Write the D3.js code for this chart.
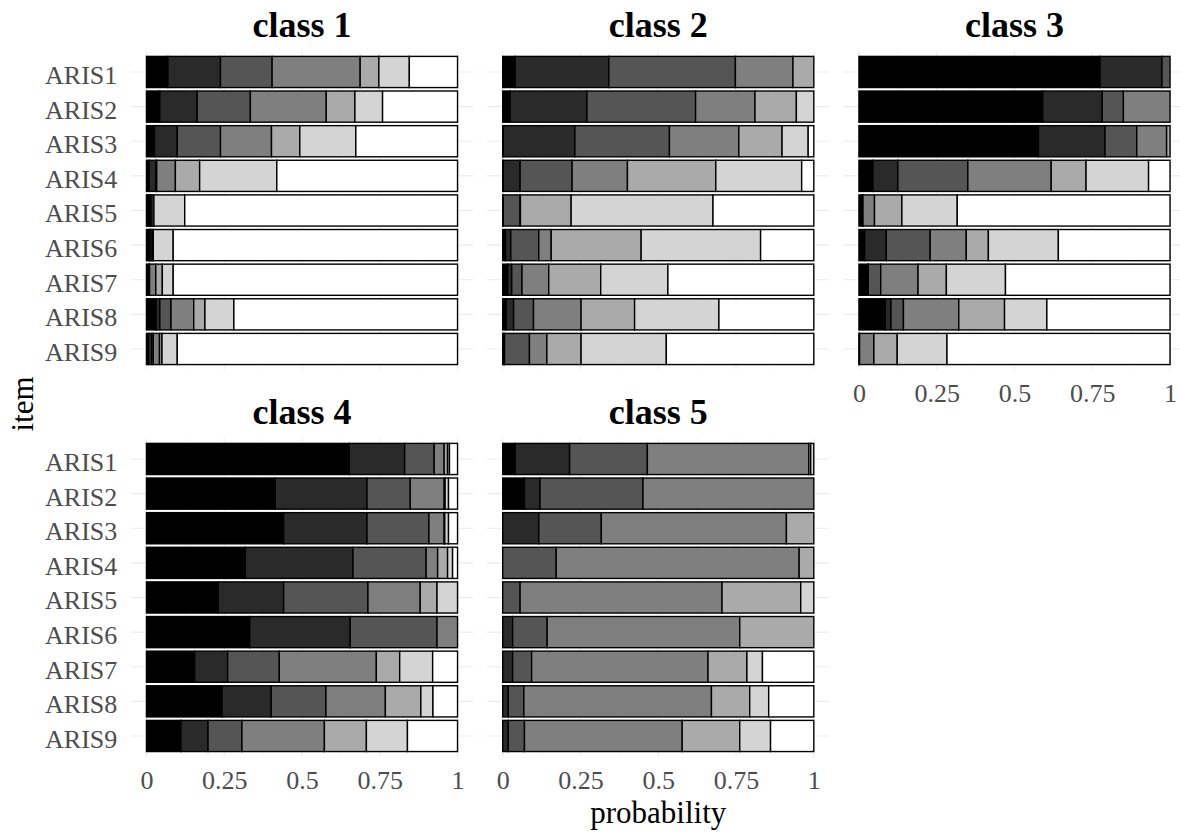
<!DOCTYPE html>
<html>
<head>
<meta charset="utf-8">
<script src="https://cdn.jsdelivr.net/npm/d3@7"></script>
<style>
  body { margin: 0; background: #fff; }
  svg { display: block; font-family: "Liberation Serif", "Times New Roman", serif; }
  .grid-major { stroke: #ebebeb; stroke-width: 1.1; }
  .grid-minor { stroke: #f2f2f2; stroke-width: 0.6; }
  .axis text { fill: #4d4d4d; font-size: 26px; }
  .axis path, .axis line { display: none; }
  .panel-title { font-size: 36px; font-weight: bold; fill: #000; }
  .axis-title { font-size: 31px; fill: #000; }
</style>
</head>
<body>
<div id="chart"></div>
<script>
// response categories, darkest first
const categories = ['1', '2', '3', '4', '5', '6', '7'];
const fills = ['#000000', '#2a2a2a', '#555555', '#7f7f7f', '#aaaaaa', '#d4d4d4', '#ffffff'];
const items = ['ARIS1', 'ARIS2', 'ARIS3', 'ARIS4', 'ARIS5', 'ARIS6', 'ARIS7', 'ARIS8', 'ARIS9'];
const classes = ['class 1', 'class 2', 'class 3', 'class 4', 'class 5'];
const xTicks = [0, 0.25, 0.5, 0.75, 1];

// probability of each category, one row per item
const class1 = [
  [.069, .169, .166, .283, .060, .098, .155],
  [.043, .120, .171, .244, .092, .089, .241],
  [.026, .073, .139, .164, .091, .180, .327],
  [.009, .022, .002, .060, .078, .248, .581],
  [.005, .004, .004, .005, .006, .099, .877],
  [.008, .002, .002, .006, .004, .064, .914],
  [.008, .001, .001, .020, .021, .035, .914],
  [.031, .012, .036, .073, .036, .093, .719],
  [.007, .010, .005, .020, .008, .049, .901]
];
const class2 = [
  [.040, .301, .407, .185, .067, 0, 0],
  [.024, .247, .349, .191, .133, .056, 0],
  [.002, .230, .304, .223, .139, .084, .018],
  [.002, .054, .167, .178, .284, .276, .039],
  [.001, .001, .054, .001, .163, .456, .324],
  [.009, .017, .090, .040, .289, .384, .171],
  [.016, .013, .033, .086, .167, .216, .469],
  [.011, .024, .064, .153, .172, .271, .305],
  [.003, .003, .080, .056, .110, .274, .474]
];
const class3 = [
  [.775, .199, .026, 0, 0, 0, 0],
  [.591, .191, .068, .150, 0, 0, 0],
  [.577, .214, .102, .096, .011, 0, 0],
  [.045, .080, .225, .268, .112, .201, .069],
  [.010, .002, .001, .037, .088, .178, .684],
  [.018, .070, .141, .116, .071, .225, .359],
  [.029, .001, .040, .120, .091, .190, .529],
  [.085, .018, .040, .178, .147, .136, .396],
  [.001, .001, 0, .046, .075, .160, .717]
];
const class4 = [
  [.652, .178, .095, .032, .011, .006, .026],
  [.414, .295, .139, .109, .003, .011, .029],
  [.441, .268, .199, .049, .002, .012, .029],
  [.318, .346, .235, .037, .032, .016, .016],
  [.231, .210, .271, .168, .054, .066, 0],
  [.332, .323, .279, .066, 0, 0, 0],
  [.155, .106, .166, .312, .075, .106, .080],
  [.243, .158, .176, .191, .114, .039, .079],
  [.111, .087, .109, .265, .135, .132, .161]
];
const class5 = [
  [.040, .175, .250, .519, .006, .010, 0],
  [.070, .050, .331, .549, 0, 0, 0],
  [0, .116, .201, .595, .088, 0, 0],
  [0, 0, .172, .781, .047, 0, 0],
  [0, 0, .056, .649, .253, .042, 0],
  [0, .032, .111, .619, .238, 0, 0],
  [0, .032, .061, .567, .125, .050, .165],
  [0, .018, .050, .603, .123, .061, .145],
  [0, .018, .052, .507, .185, .099, .139]
];
const classData = [class1, class2, class3, class4, class5];

const width = 1180, height = 832;
const panelLeft = 130.9, panelStep = 356.25, panelWidth = 342.2;
const rowTops = [51.2, 438.2], panelHeight = 318.55;

const svg = d3.select('#chart').append('svg')
  .attr('width', width)
  .attr('height', height);

const fill = d3.scaleOrdinal().domain(d3.range(categories.length)).range(fills);

const stack = d3.stack().keys(d3.range(categories.length));

classes.forEach((name, p) => {
  const col = p % 3, row = Math.floor(p / 3);
  const left = panelLeft + col * panelStep;
  const top = rowTops[row];

  const x = d3.scaleLinear().domain([-0.05, 1.05]).range([left, left + panelWidth]);
  const y = d3.scalePoint().domain(items).range([top, top + panelHeight]).padding(0.6);
  const barH = y.step() * 0.9;

  const g = svg.append('g').attr('class', 'panel');

  // grid
  const minor = [0.125, 0.375, 0.625, 0.875];
  g.selectAll('.gm').data(minor).join('line')
    .attr('class', 'grid-minor')
    .attr('x1', d => x(d)).attr('x2', d => x(d))
    .attr('y1', top).attr('y2', top + panelHeight);
  g.selectAll('.gx').data(xTicks).join('line')
    .attr('class', 'grid-major')
    .attr('x1', d => x(d)).attr('x2', d => x(d))
    .attr('y1', top).attr('y2', top + panelHeight);
  g.selectAll('.gy').data(items).join('line')
    .attr('class', 'grid-major')
    .attr('x1', left).attr('x2', left + panelWidth)
    .attr('y1', d => y(d)).attr('y2', d => y(d));

  // stacked bars
  const rows = classData[p].map((vals, i) => Object.assign({item: items[i]}, vals));
  const series = stack(rows);
  g.selectAll('.layer').data(series).join('g')
    .attr('class', 'layer')
    .attr('fill', s => fill(s.key))
    .selectAll('rect')
    .data(s => s.filter(d => d[1] - d[0] > 0))
    .join('rect')
    .attr('x', d => x(d[0]))
    .attr('width', d => x(d[1]) - x(d[0]))
    .attr('y', d => y(d.data.item) - barH / 2)
    .attr('height', barH)
    .attr('stroke', '#000')
    .attr('stroke-width', 1.4);

  // facet title
  svg.append('text')
    .attr('class', 'panel-title')
    .attr('x', x(0.5))
    .attr('y', top - 14)
    .attr('text-anchor', 'middle')
    .text(name);

  // x axis only on the bottom panel of each column
  if (row === 1 || col === 2) {
    svg.append('g')
      .attr('class', 'axis')
      .attr('transform', `translate(0, ${top + panelHeight})`)
      .call(d3.axisBottom(x).tickValues(xTicks).tickSize(0).tickPadding(13.5).tickFormat(d => String(d)))
      .selectAll('text')
      .style('font-family', null);
  }
  // y axis only on the first column
  if (col === 0) {
    svg.append('g')
      .attr('class', 'axis')
      .attr('transform', `translate(${left}, 0)`)
      .call(d3.axisLeft(y).tickSize(0).tickPadding(13.6))
      .selectAll('text')
      .attr('dy', '0.44em');
  }
});

svg.selectAll('.axis').attr('font-family', null).attr('font-size', null);

svg.append('text')
  .attr('class', 'axis-title')
  .attr('x', panelLeft + (panelStep * 2 + panelWidth) / 2)
  .attr('y', 823)
  .attr('text-anchor', 'middle')
  .text('probability');

svg.append('text')
  .attr('class', 'axis-title')
  .attr('transform', `translate(33, ${rowTops[0] + (rowTops[1] + panelHeight - rowTops[0]) / 2}) rotate(-90)`)
  .attr('text-anchor', 'middle')
  .text('item');
</script>
</body>
</html>
